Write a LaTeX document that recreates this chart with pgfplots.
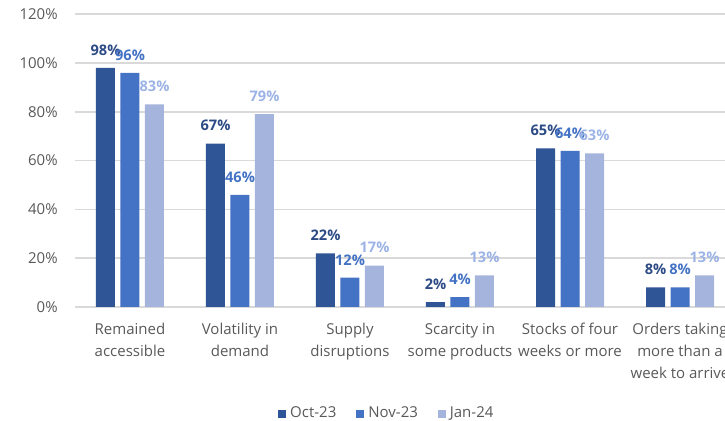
\documentclass[border=0pt]{standalone}
\usepackage{fontspec}
\setmainfont{Open Sans}
\usepackage{pgfplots}
\pgfplotsset{compat=1.18}
\definecolor{octc}{HTML}{2F5597}
\definecolor{novc}{HTML}{4472C4}
\definecolor{janc}{HTML}{A5B4DC}
\definecolor{octl}{HTML}{2C4A85}
\definecolor{novl}{HTML}{4472C4}
\definecolor{janl}{HTML}{9CB3E6}
\definecolor{txt}{HTML}{595959}
\definecolor{grd}{HTML}{D9D9D9}
\begin{document}
\begin{tikzpicture}
\begin{axis}[
  x=55pt, y=1.22pt,
  xmin=-0.5, xmax=5.5, ymin=0, ymax=120,
  clip=false,
  axis line style={draw=none},
  major tick length=0pt,
  ymajorgrids, grid style={grd, line width=0.75pt},
  ytick={0,20,...,120},
  yticklabel={\pgfmathprintnumber{\tick}\%},
  yticklabel style={font=\fontsize{7.5}{9}\selectfont, text=txt, inner sep=0pt, xshift=-8.5pt},
  xtick={0,...,5},
  xticklabels={{Remained\\accessible},{Volatility in\\demand},{Supply\\disruptions},{Scarcity in\\some products},{Stocks of four\\weeks or more},{Orders taking\\more than a\\week to arrive}},
  xticklabel style={font=\fontsize{7.5}{11}\selectfont, text=txt, align=center, inner sep=0pt, yshift=-8pt, anchor=north},
  /pgf/number format/assume math mode=true,
  ybar, bar width=9.5pt,
  nodes near coords={\pgfmathprintnumber{\pgfplotspointmeta}\%},
  every node near coord/.append style={font=\bfseries\fontsize{7.3}{9}\selectfont, anchor=south, inner sep=0pt, yshift=6pt},
  legend style={at={(0.474,-0.365)}, anchor=center, legend columns=-1, draw=none, fill=none,
    font=\fontsize{7.5}{9}\selectfont, text=txt,
    /tikz/every even column/.append style={column sep=8pt}},
  legend image code/.code={\fill[#1] (0pt,-2pt) rectangle (4pt,2pt);},
]
\addplot[fill=octc, draw=none, bar shift=-12.25pt, every node near coord/.append style={text=octl}]
  coordinates {(0,98) (1,67) (2,22) (3,2) (4,65) (5,8)};
\addplot[fill=novc, draw=none, bar shift=0pt, every node near coord/.append style={text=novl}]
  coordinates {(0,96) (1,46) (2,12) (3,4) (4,64) (5,8)};
\addplot[fill=janc, draw=none, bar shift=12.25pt, every node near coord/.append style={text=janl}]
  coordinates {(0,83) (1,79) (2,17) (3,13) (4,63) (5,13)};
\legend{Oct-23, Nov-23, Jan-24}
\coordinate (bbSW) at (axis cs:-1.1818,-46.72);
\coordinate (bbNE) at (axis cs:5.4091,125.82);
\end{axis}
\pgfresetboundingbox
\path[use as bounding box] (bbSW) rectangle (bbNE);
\end{tikzpicture}
\end{document}
